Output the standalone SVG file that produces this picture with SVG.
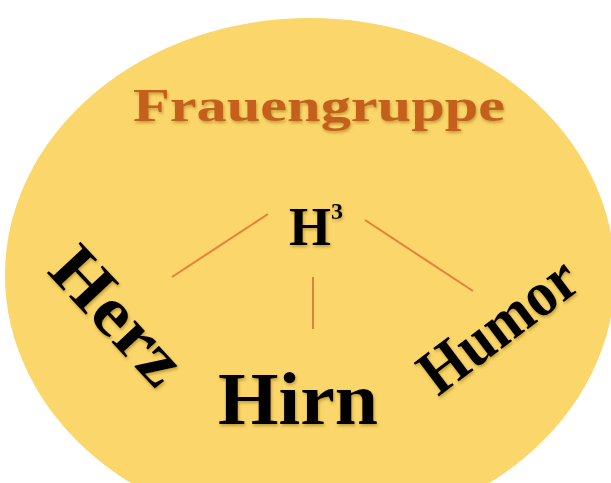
<svg xmlns="http://www.w3.org/2000/svg" width="611" height="483" viewBox="0 0 611 483">
<style>
.word{font-family:"Liberation Serif","DejaVu Serif",serif;font-weight:bold;fill:#000}
.title{font-family:"Liberation Serif","DejaVu Serif",serif;font-weight:bold;fill:#C5601C}
.link{stroke:#E5803A;stroke-width:2;fill:none}
</style>
<defs>
<filter id="sh" x="-20%" y="-20%" width="140%" height="140%">
<feDropShadow dx="1" dy="2" stdDeviation="1.5" flood-color="#7a5a10" flood-opacity="0.45"/>
</filter>
</defs>
<rect width="611" height="483" fill="#fff"/>
<ellipse id="disc" cx="310" cy="275" rx="305" ry="257" fill="#FBD66A"/>
<g id="title" filter="url(#sh)">
<text class="title" x="133" y="121" font-size="46" textLength="372" lengthAdjust="spacingAndGlyphs">Frauengruppe</text>
</g>
<g id="connectors">
<line class="link" x1="268" y1="214" x2="172" y2="277"/>
<line class="link" x1="313" y1="277" x2="313" y2="329"/>
<line class="link" x1="365" y1="220" x2="473" y2="291"/>
</g>
<g id="h3" filter="url(#sh)">
<text class="word" x="289" y="245" font-size="54">H<tspan font-size="24" dy="-26">3</tspan></text>
</g>
<g id="herz" filter="url(#sh)">
<text class="word" font-size="70" transform="translate(46 272) rotate(47)" textLength="162" lengthAdjust="spacingAndGlyphs">Herz</text>
</g>
<g id="hirn" filter="url(#sh)">
<text class="word" x="218" y="424" font-size="74" textLength="160" lengthAdjust="spacingAndGlyphs">Hirn</text>
</g>
<g id="humor" filter="url(#sh)">
<text class="word" font-size="64" transform="translate(438 397) rotate(-37)" textLength="182" lengthAdjust="spacingAndGlyphs">Humor</text>
</g>
</svg>
